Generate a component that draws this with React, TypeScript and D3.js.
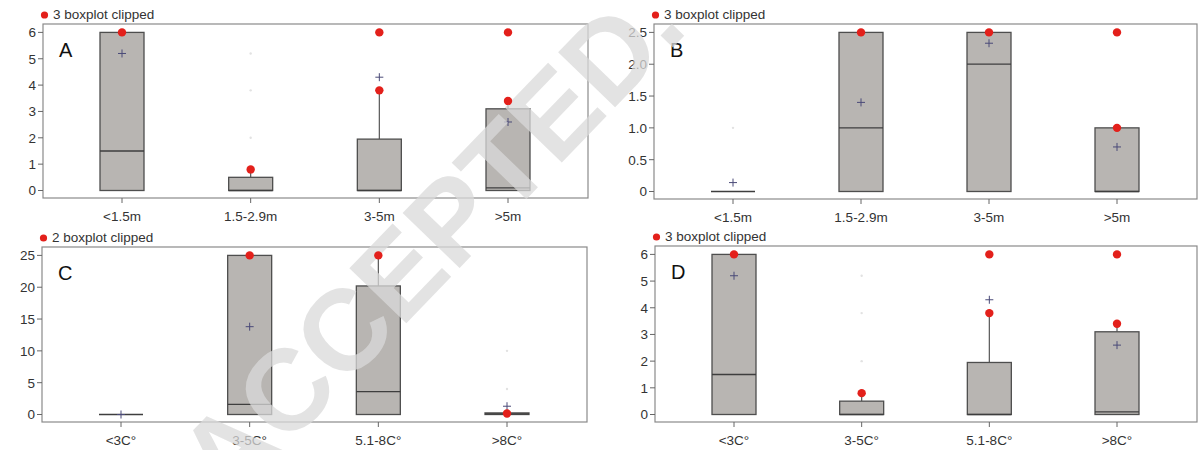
import React from "react";
import * as d3 from "d3";

// ---------- categories ----------
const heightClasses = ["<1.5m", "1.5-2.9m", "3-5m", ">5m"];
const tempClasses = ["<3C°", "3-5C°", "5.1-8C°", ">8C°"];

// ---------- panel A ----------
const aQ1 = [0, 0, 0, 0];
const aMedian = [1.5, 0, 0, 0.1];
const aQ3 = [6, 0.5, 1.95, 3.1];
const aWhisker = [6, 0.8, 3.8, 3.4];
const aMean: (number | null)[] = [5.2, null, 4.3, 2.6];
const aRed = [[6], [0.8], [3.8, 6], [3.4, 6]];
const aFaint = [[], [5.2, 3.8, 2.0], [], []];
const aTicks = [0, 1, 2, 3, 4, 5, 6];

// ---------- panel B ----------
const bQ1 = [0, 0, 0, 0];
const bMedian = [0, 1.0, 2.0, 0];
const bQ3 = [0, 2.5, 2.5, 1.0];
const bWhisker = [0, 2.5, 2.5, 1.0];
const bMean: (number | null)[] = [0.14, 1.4, 2.33, 0.7];
const bRed = [[], [2.5], [2.5], [1.0, 2.5]];
const bFaint = [[1.0], [], [], []];
const bTicks = [0, 0.5, 1.0, 1.5, 2.0, 2.5];

// ---------- panel C ----------
const cQ1 = [0, 0, 0, 0];
const cMedian = [0, 1.6, 3.6, 0.1];
const cQ3 = [0, 25, 20.2, 0.25];
const cWhisker = [0, 25, 25, 0.25];
const cMean: (number | null)[] = [0, 13.8, null, 1.3];
const cRed = [[], [25], [25], [0.15]];
const cFaint = [[], [], [], [10, 4]];
const cTicks = [0, 5, 10, 15, 20, 25];

// ---------- panel D ----------
const dQ1 = [0, 0, 0, 0];
const dMedian = [1.5, 0, 0, 0.1];
const dQ3 = [6, 0.5, 1.95, 3.1];
const dWhisker = [6, 0.8, 3.8, 3.4];
const dMean: (number | null)[] = [5.2, null, 4.3, 2.6];
const dRed = [[6], [0.8], [3.8, 6], [3.4, 6]];
const dFaint = [[], [5.2, 3.8, 2.0], [], []];
const dTicks = [0, 1, 2, 3, 4, 5, 6];

const FONT = "'Liberation Sans', Arial, Helvetica, sans-serif";
const TEXT = "#333";
const RED = "#e3201b";

type PanelProps = {
  x0: number; x1: number; y0: number; y1: number;
  cats: string[]; yMax: number; ticks: number[]; fmt: (v: number) => string;
  q1: number[]; median: number[]; q3: number[]; whisker: number[];
  mean: (number | null)[]; red: number[][]; faint: number[][];
  label: string; legend: string;
};

function Frame(p: PanelProps) {
  const y = d3.scaleLinear().domain([0, p.yMax]).range([p.y1 - 7.5, p.y0 + 8.4]);
  const x = d3.scalePoint<string>().domain(p.cats).range([p.x0 + 79, p.x1 - 80]);
  const bw = 44;
  return (
    <g>
      <circle cx={p.x0 + 1.5} cy={p.y0 - 9} r={3.6} fill={RED} />
      <text x={p.x0 + 10} y={p.y0 - 5} fontSize={13.5} fill={TEXT} fontFamily={FONT}>{p.legend}</text>
      <rect x={p.x0} y={p.y0} width={p.x1 - p.x0} height={p.y1 - p.y0} fill="none" stroke="#8a8a8a" strokeWidth={1.2} />
      {p.ticks.map((t) => (
        <g key={t}>
          <line x1={p.x0 - 5} x2={p.x0} y1={y(t)} y2={y(t)} stroke="#666" />
          <text x={p.x0 - 7} y={y(t)} dy="0.36em" textAnchor="end" fontSize={13.5} fill={TEXT} fontFamily={FONT}>{p.fmt(t)}</text>
        </g>
      ))}
      {p.cats.map((c) => (
        <g key={c}>
          <line x1={x(c)} x2={x(c)} y1={p.y1} y2={p.y1 + 5} stroke="#666" />
          <text x={x(c)} y={p.y1 + 23} textAnchor="middle" fontSize={13.5} fill={TEXT} fontFamily={FONT}>{c}</text>
        </g>
      ))}
      <text x={p.x0 + 16} y={p.y0 + 33} fontSize={20} fill="#111" fontFamily={FONT}>{p.label}</text>
      {p.cats.map((c, i) => p.faint[i].map((v, j) => (
        <circle key={c + "f" + j} cx={x(c)} cy={y(v)} r={1.2} fill="#e2e2e2" />
      )))}
      {p.cats.map((c, i) => {
        const cx = x(c) as number;
        return (
          <g key={c + "b"}>
            {p.whisker[i] > p.q3[i] && (
              <line x1={cx} x2={cx} y1={y(p.q3[i])} y2={y(p.whisker[i])} stroke="#555" strokeWidth={1.2} />
            )}
            <rect x={cx - bw / 2} y={y(p.q3[i])} width={bw} height={Math.max(0, y(p.q1[i]) - y(p.q3[i]))}
              fill="#b8b5b2" stroke="#4e4e4e" strokeWidth={1.3} />
            <line x1={cx - bw / 2} x2={cx + bw / 2} y1={y(p.median[i])} y2={y(p.median[i])} stroke="#3e3e3e" strokeWidth={1.3} />
            {p.mean[i] !== null && (
              <g stroke="#4a4a78" strokeWidth={1}>
                <line x1={cx - 4} x2={cx + 4} y1={y(p.mean[i] as number)} y2={y(p.mean[i] as number)} />
                <line x1={cx} x2={cx} y1={y(p.mean[i] as number) - 4} y2={y(p.mean[i] as number) + 4} />
              </g>
            )}
          </g>
        );
      })}
    </g>
  );
}

function RedDots(p: PanelProps) {
  const y = d3.scaleLinear().domain([0, p.yMax]).range([p.y1 - 7.5, p.y0 + 8.4]);
  const x = d3.scalePoint<string>().domain(p.cats).range([p.x0 + 79, p.x1 - 80]);
  return (
    <g>
      {p.cats.map((c, i) => p.red[i].map((v, j) => (
        <circle key={c + "r" + j} cx={x(c)} cy={y(v)} r={4.2} fill={RED} />
      )))}
    </g>
  );
}

const intFmt = (v: number) => String(v);
const oneFmt = (v: number) => (v === 0 ? "0" : v.toFixed(1));

const panels: PanelProps[] = [
  { x0: 43, x1: 588, y0: 24, y1: 198, cats: heightClasses, yMax: 6, ticks: aTicks, fmt: intFmt,
    q1: aQ1, median: aMedian, q3: aQ3, whisker: aWhisker, mean: aMean, red: aRed, faint: aFaint,
    label: "A", legend: "3 boxplot clipped" },
  { x0: 654, x1: 1197, y0: 24, y1: 199, cats: heightClasses, yMax: 2.5, ticks: bTicks, fmt: oneFmt,
    q1: bQ1, median: bMedian, q3: bQ3, whisker: bWhisker, mean: bMean, red: bRed, faint: bFaint,
    label: "B", legend: "3 boxplot clipped" },
  { x0: 42, x1: 587, y0: 247, y1: 422, cats: tempClasses, yMax: 25, ticks: cTicks, fmt: intFmt,
    q1: cQ1, median: cMedian, q3: cQ3, whisker: cWhisker, mean: cMean, red: cRed, faint: cFaint,
    label: "C", legend: "2 boxplot clipped" },
  { x0: 655, x1: 1197, y0: 246, y1: 422, cats: tempClasses, yMax: 6, ticks: dTicks, fmt: intFmt,
    q1: dQ1, median: dMedian, q3: dQ3, whisker: dWhisker, mean: dMean, red: dRed, faint: dFaint,
    label: "D", legend: "3 boxplot clipped" },
];

export default function App() {
  return (
    <svg width={1200} height={450} style={{ position: "absolute", left: 0, top: 0, background: "#fff" }}>
      <rect width={1200} height={450} fill="#fff" />
      {panels.map((p) => <Frame key={p.label} {...p} />)}
      <text x={228} y={508} transform="rotate(-46 228 508)" fontSize={115} fontWeight="bold" fill="#dadada"
        fillOpacity={0.75} fontFamily={FONT}>ACCEPTED.</text>
      {panels.map((p) => <RedDots key={p.label + "r"} {...p} />)}
    </svg>
  );
}
